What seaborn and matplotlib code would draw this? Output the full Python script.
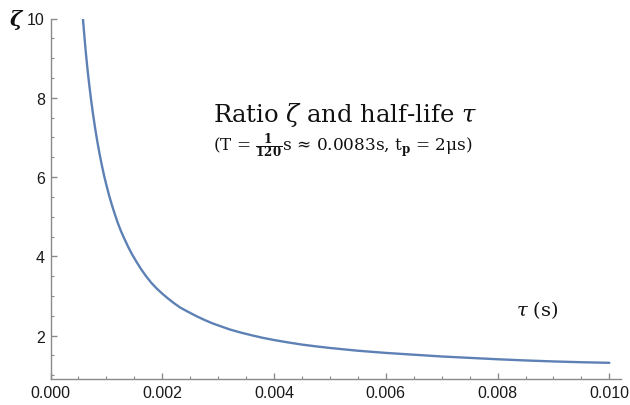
import matplotlib
matplotlib.use("Agg")
import matplotlib.pyplot as plt
from matplotlib.ticker import MultipleLocator
import seaborn as sns
import pandas as pd

# Data
tau_s = [0.00058, 0.00060, 0.00062, 0.00064, 0.00066, 0.00068, 0.00070, 0.00073,
         0.00076, 0.00080, 0.00084, 0.00088, 0.00092, 0.00096, 0.00100, 0.00105,
         0.00110, 0.00115, 0.00120, 0.00126, 0.00132, 0.00139, 0.00146, 0.00154,
         0.00162, 0.00171, 0.00180, 0.00190, 0.00200, 0.00210, 0.00220, 0.00232,
         0.00245, 0.00260, 0.00275, 0.00290, 0.00305, 0.00320, 0.00340, 0.00360,
         0.00380, 0.00400, 0.00425, 0.00450, 0.00475, 0.00500, 0.00550, 0.00600,
         0.00650, 0.00700, 0.00750, 0.00800, 0.00850, 0.00900, 0.00950, 0.01000]
zeta = [10.0, 9.66, 9.33, 9.03, 8.75, 8.49, 8.25, 7.91,
        7.60, 7.22, 6.88, 6.57, 6.29, 6.03, 5.80, 5.53,
        5.29, 5.07, 4.86, 4.64, 4.45, 4.24, 4.05, 3.86,
        3.68, 3.50, 3.34, 3.19, 3.06, 2.94, 2.83, 2.71,
        2.61, 2.50, 2.40, 2.31, 2.235, 2.16, 2.08, 2.01,
        1.945, 1.89, 1.83, 1.775, 1.73, 1.69, 1.62, 1.565,
        1.52, 1.475, 1.44, 1.405, 1.375, 1.35, 1.33, 1.315]
x_ticks = [0.000, 0.002, 0.004, 0.006, 0.008, 0.010]
x_tick_labels = ["0.000", "0.002", "0.004", "0.006", "0.008", "0.010"]
y_ticks = [2, 4, 6, 8, 10]
y_tick_labels = ["2", "4", "6", "8", "10"]

title_line1 = r"Ratio $\zeta$ and half-life $\tau$"
title_line2 = r"(T = $\frac{\mathbf{1}}{\mathbf{120}}$s ≈ 0.0083s, t$_{\mathbf{p}}$ = 2μs)"
y_label = "ζ"
x_label = r"$\tau$ (s)"

df = pd.DataFrame({"tau": tau_s, "zeta": zeta})

sns.set_style("white")
plt.rcParams["font.family"] = ["Liberation Sans", "DejaVu Sans"]
plt.rcParams["mathtext.fontset"] = "dejavuserif"

W, H = 630, 406
fig = plt.figure(figsize=(W / 100, H / 100), dpi=100)
ax = fig.add_axes([50.5 / W, 1 - 380 / H, (620.5 - 50.5) / W, (380 - 19.5) / H])

sns.lineplot(data=df, x="tau", y="zeta", ax=ax, color="#5E81B5", linewidth=1.7,
             sort=True, estimator=None)

ax.set_xlim(0, 0.0102)
ax.set_ylim(0.907, 10.0)
ax.set_xlabel("")
ax.set_ylabel("")

for s in ["top", "right"]:
    ax.spines[s].set_visible(False)
axis_gray = "#8a8a8a"
for s in ["left", "bottom"]:
    ax.spines[s].set_color(axis_gray)
    ax.spines[s].set_linewidth(1.0)

ax.set_xticks(x_ticks)
ax.set_xticklabels(x_tick_labels)
ax.set_yticks(y_ticks)
ax.set_yticklabels(y_tick_labels)
ax.xaxis.set_minor_locator(MultipleLocator(0.0005))
ax.yaxis.set_minor_locator(MultipleLocator(0.5))
ax.tick_params(axis="both", which="major", direction="in", length=4.5, width=1.0,
               color=axis_gray, labelsize=11.5, labelcolor="#1a1a1a", pad=4)
ax.tick_params(axis="both", which="minor", direction="in", length=2.5, width=0.8,
               color=axis_gray)
ax.tick_params(axis="x", which="both", bottom=True, top=False)
ax.tick_params(axis="y", which="both", left=True, right=False)
ax.grid(False)

fig.text(16 / W, 1 - 20 / H, y_label, fontsize=15, ha="center", va="center",
         family=["DejaVu Serif"], fontstyle="italic", fontweight="bold",
         color="#111111")
fig.text(213 / W, 1 - 122 / H, title_line1, fontsize=17.5, ha="left", va="baseline",
         family=["DejaVu Serif"], color="#111111")
fig.text(213 / W, 1 - 151 / H, title_line2, fontsize=12.2, ha="left", va="baseline",
         family=["DejaVu Serif"], color="#111111")
fig.text(537 / W, 1 - 310 / H, x_label, fontsize=14, ha="center", va="center",
         family=["DejaVu Serif"], color="#111111")

fig.savefig("out.png", dpi=100, facecolor="white")
